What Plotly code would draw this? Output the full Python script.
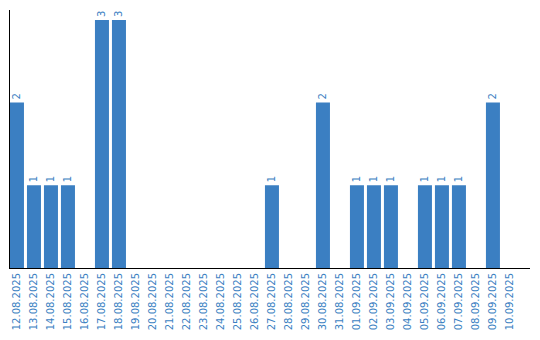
import plotly.graph_objects as go

dates = ["12.08.2025","13.08.2025","14.08.2025","15.08.2025","16.08.2025","17.08.2025","18.08.2025",
         "19.08.2025","20.08.2025","21.08.2025","22.08.2025","23.08.2025","24.08.2025","25.08.2025",
         "26.08.2025","27.08.2025","28.08.2025","29.08.2025","30.08.2025","31.08.2025","01.09.2025",
         "02.09.2025","03.09.2025","04.09.2025","05.09.2025","06.09.2025","07.09.2025","08.09.2025",
         "09.09.2025","10.09.2025"]
counts = [2,1,1,1,0,3,3,0,0,0,0,0,0,0,0,1,0,0,2,0,1,1,1,0,1,1,1,0,2,0]
labels = [str(c) if c else "" for c in counts]

color = "#3b7fc2"
fig = go.Figure(go.Bar(
    x=dates, y=counts, text=labels, textposition="outside", textangle=-90,
    textfont=dict(family="DejaVu Sans", size=10, color=color),
    marker=dict(color=color, line=dict(width=0)), cliponaxis=False,
))
fig.update_layout(
    width=540, height=340, margin=dict(l=10, r=10, t=10, b=70),
    paper_bgcolor="white", plot_bgcolor="white", bargap=0.176, showlegend=False,
    uniformtext=dict(minsize=1, mode="show"),
)
fig.update_xaxes(type="category", range=[-0.41, 30.18], tickangle=-90, showline=True,
                 linecolor="black", linewidth=1,
                 tickfont=dict(family="DejaVu Sans", size=10, color=color), ticks="", showgrid=False)
fig.update_yaxes(range=[0, 3.12], showline=True, linecolor="black", linewidth=1, showticklabels=False,
                 ticks="", showgrid=False, zeroline=False)
fig.write_html("out.html")
